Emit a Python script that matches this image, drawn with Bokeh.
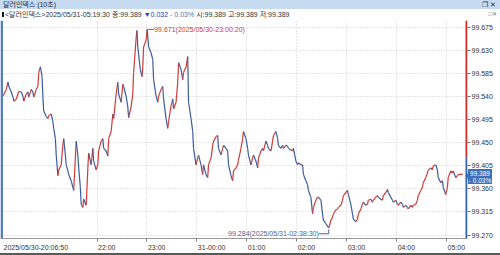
from bokeh.plotting import figure
from bokeh.models import (ColumnDataSource, Range1d, FixedTicker, PrintfTickFormatter, Label, Span, Div,
                          CustomJSTickFormatter)
from bokeh.layouts import column
from bokeh.embed import file_html
from bokeh.resources import INLINE

# ---- data (minutes after 2025/05/30 20:00, 10-second chart of the dollar index) ----
minutes = [
    7, 11, 13, 14, 17, 19, 20, 23, 25, 26,
    29, 31, 32, 35, 37, 38, 41, 43, 44, 47,
    49, 50, 52, 54, 55, 56, 59, 61, 62, 65,
    67, 68, 70, 71, 73, 74, 77, 79, 80, 82,
    83, 85, 86, 89, 91, 92, 94, 95, 97, 98,
    100, 101, 103, 104, 107, 108, 109, 110, 113, 115,
    116, 119, 121, 122, 125, 127, 128, 131, 133, 134,
    137, 139, 140, 143, 145, 146, 149, 151, 152, 155,
    157, 158, 161, 163, 164, 167, 168, 169, 172, 174,
    175, 176, 179, 180.3, 182, 185, 187, 188, 191, 193,
    194, 197, 199, 200, 203, 205, 206, 209, 211, 212,
    215, 217, 218, 221, 223, 224, 227, 229, 230, 233,
    235, 236, 239, 241, 242, 245, 247, 248, 251, 253,
    254, 257, 259, 260, 263, 265, 266, 269, 271, 272,
    275, 277, 278, 281, 283, 284, 287, 289, 290, 293,
    295, 296, 299, 301, 302, 305, 307, 308, 311, 313,
    314, 317, 319, 320, 323, 325, 326, 329, 331, 332,
    335, 337, 338, 341, 343, 344, 347, 349, 350, 353,
    355, 356, 359, 361, 362, 365, 367, 368, 371, 373,
    374, 377, 379, 380, 383, 385, 386, 389, 391, 392,
    395, 398.5, 400, 401, 403, 404, 407, 409, 410, 413,
    415, 416, 419, 421, 422, 425, 427, 428, 431, 433,
    434, 437, 439, 440, 443, 445, 446, 449, 451, 452,
    455, 457, 458, 461, 463, 464, 467, 469, 470, 473,
    475, 476, 479, 481, 482, 485, 487, 488, 491, 493,
    494, 497, 499, 500, 503, 505, 506, 509, 511, 512,
    515, 517, 518, 521, 523, 524, 527, 529, 530, 533,
    535, 536, 539, 541, 542, 545, 547, 548, 551, 553,
    554, 559.5,
]
prices = [
    99.541, 99.554, 99.568, 99.560, 99.549, 99.539, 99.531, 99.535, 99.545, 99.550,
    99.549, 99.541, 99.531, 99.545, 99.549, 99.539, 99.554, 99.549, 99.539, 99.554,
    99.560, 99.587, 99.598, 99.579, 99.539, 99.512, 99.501, 99.497, 99.503, 99.506,
    99.491, 99.478, 99.458, 99.426, 99.386, 99.397, 99.407, 99.445, 99.458, 99.426,
    99.407, 99.395, 99.388, 99.376, 99.363, 99.357, 99.420, 99.453, 99.426, 99.401,
    99.363, 99.330, 99.324, 99.340, 99.328, 99.363, 99.401, 99.430, 99.407, 99.439,
    99.414, 99.397, 99.407, 99.434, 99.453, 99.458, 99.439, 99.434, 99.424, 99.458,
    99.472, 99.506, 99.497, 99.545, 99.568, 99.545, 99.529, 99.564, 99.560, 99.541,
    99.520, 99.499, 99.520, 99.545, 99.587, 99.654, 99.669, 99.637, 99.593, 99.579,
    99.598, 99.637, 99.650, 99.671, 99.637, 99.625, 99.612, 99.573, 99.541, 99.529,
    99.541, 99.554, 99.560, 99.535, 99.497, 99.478, 99.491, 99.522, 99.535, 99.516,
    99.529, 99.568, 99.606, 99.593, 99.573, 99.587, 99.598, 99.618, 99.529, 99.497,
    99.472, 99.439, 99.407, 99.420, 99.426, 99.407, 99.388, 99.407, 99.388, 99.382,
    99.407, 99.420, 99.445, 99.453, 99.462, 99.464, 99.439, 99.426, 99.439, 99.445,
    99.439, 99.434, 99.407, 99.386, 99.376, 99.395, 99.401, 99.407, 99.416, 99.439,
    99.458, 99.472, 99.458, 99.439, 99.426, 99.407, 99.420, 99.426, 99.414, 99.401,
    99.420, 99.434, 99.439, 99.434, 99.453, 99.445, 99.439, 99.434, 99.453, 99.464,
    99.472, 99.458, 99.445, 99.439, 99.445, 99.439, 99.445, 99.443, 99.439, 99.436,
    99.434, 99.439, 99.414, 99.407, 99.411, 99.407, 99.407, 99.388, 99.376, 99.368,
    99.357, 99.344, 99.311, 99.324, 99.338, 99.344, 99.344, 99.338, 99.311, 99.299,
    99.292, 99.284, 99.292, 99.299, 99.305, 99.311, 99.319, 99.321, 99.324, 99.328,
    99.338, 99.347, 99.353, 99.357, 99.349, 99.330, 99.311, 99.301, 99.296, 99.301,
    99.311, 99.321, 99.330, 99.334, 99.328, 99.330, 99.338, 99.340, 99.334, 99.338,
    99.344, 99.347, 99.344, 99.340, 99.338, 99.347, 99.353, 99.359, 99.353, 99.344,
    99.338, 99.334, 99.338, 99.330, 99.328, 99.334, 99.330, 99.324, 99.328, 99.324,
    99.321, 99.328, 99.324, 99.328, 99.330, 99.338, 99.347, 99.357, 99.363, 99.372,
    99.382, 99.391, 99.397, 99.401, 99.397, 99.405, 99.407, 99.397, 99.382, 99.372,
    99.376, 99.363, 99.349, 99.363, 99.382, 99.395, 99.391, 99.395, 99.382, 99.386,
    99.388, 99.389,
]

start_label = "2025/05/30-20:06:50"
hour_ticks = [120, 180, 240, 300, 360, 420, 480, 540]
hour_labels = ["22:00", "23:00", "31-00:00", "01:00", "02:00", "03:00", "04:00", "05:00"]
y_ticks = [99.270, 99.315, 99.360, 99.405, 99.450, 99.495, 99.540, 99.585, 99.630, 99.675]

prev_close = 99.421
last_price = 99.389
change_text = "- 0.03%"
high_minute, high_price = 180.3, 99.671
high_text = "99.671(2025/05/30-23:00:20)"
low_minute, low_price = 398.5, 99.284
low_text = "99.284(2025/05/31-02:38:30)"

title_text = "달러인덱스 (10초)"
info_name = "&lt;달러인덱스&gt;2025/05/31-05:19:30"
info_close = "종:99.389"
info_chg = "▼0.032"
info_pct = "- 0.03%"
info_rest = "시:99.389 고:99.389 저:99.389"

# ---- styles ----
UP = "#d03b38"
DOWN = "#3c5d9c"
AX_RED = "#d42a24"
AX_BLUE = "#2f63b4"
BOX_BLUE = "#3f6fb6"
HIGH_C = "#c8433a"
LOW_C = "#4a6a9c"
FONT = "Liberation Sans"
FS = 7  # px

HEADER_H = 20
FIG_H = 233
FRAME_W, FRAME_H = 467, 222
ppm = 0.8323                      # pixels per minute
x_start = 120 - 96.5 / ppm
x_end = x_start + FRAME_W / ppm
y_start, y_end = 99.2633, 99.6884
ppu = FRAME_H / (y_end - y_start)


def text_w(s):
    """approximate width (px) of a label in Liberation Sans at FS px"""
    w = {":": 0.278, "/": 0.278, "-": 0.333, ".": 0.278}
    return sum(w.get(ch, 0.556) for ch in s) * FS


p = figure(width=500, height=FIG_H, x_range=Range1d(x_start, x_end), y_range=Range1d(y_start, y_end),
           output_backend="svg", toolbar_location=None, y_axis_location="right",
           min_border_left=0, min_border_right=500 - FRAME_W, min_border_top=0,
           min_border_bottom=FIG_H - FRAME_H,
           background_fill_color="white", border_fill_color="white")
p.outline_line_color = None

# grid
p.xgrid.ticker = FixedTicker(ticks=hour_ticks)
p.ygrid.ticker = FixedTicker(ticks=y_ticks)
for g in (p.xgrid, p.ygrid):
    g.grid_line_color = "#cfcfcf"
    g.grid_line_dash = "1 2"
    g.grid_line_width = 1

# left blue border of the chart window
p.add_layout(Span(location=x_start + 1.2 / ppm, dimension="height", line_color="#4f7cc4", line_width=2.5))

# price trace, coloured by direction
src = ColumnDataSource(dict(
    x0=minutes[:-1], x1=minutes[1:], y0=prices[:-1], y1=prices[1:],
    c=[UP if b >= a else DOWN for a, b in zip(prices[:-1], prices[1:])],
))
p.segment(x0="x0", y0="y0", x1="x1", y1="y1", line_color="c", line_width=1.2, source=src)

# x axis: minor ticks mark the hours, labels sit to the right of each tick (left-aligned look)
label_texts = [start_label] + hour_labels
label_lefts = [x_start + 3 / ppm] + [h + 1 / ppm for h in hour_ticks]
label_centers = [l + text_w(t) / 2 / ppm for l, t in zip(label_lefts, label_texts)]
xa = p.xaxis[0]
xa.ticker = FixedTicker(ticks=label_centers, minor_ticks=hour_ticks)
xa.formatter = CustomJSTickFormatter(args=dict(labels=label_texts),
                                     code="return labels[index] == null ? '' : labels[index];")
xa.major_label_text_font = FONT
xa.major_label_text_font_size = f"{FS}px"
xa.major_label_text_color = "#333333"
xa.major_label_standoff = 2
xa.major_tick_out = 0
xa.major_tick_in = 0
xa.minor_tick_out = 3
xa.minor_tick_in = 0
xa.minor_tick_line_color = "#808080"
xa.axis_line_color = "#9a9a9a"

# right price axis
ya = p.yaxis[0]
ya.ticker = FixedTicker(ticks=y_ticks)
ya.formatter = PrintfTickFormatter(format="%.3f")
ya.major_label_text_font = FONT
ya.major_label_text_font_size = f"{FS}px"
ya.major_label_text_color = "#333333"
ya.major_tick_out = 3
ya.major_tick_in = 0
ya.minor_tick_out = 0
ya.minor_tick_in = 0
ya.major_tick_line_color = "#707070"
ya.axis_line_color = None
ya.major_label_standoff = 1

# right axis line: red above previous close, blue below
xe = x_end - 1.0 / ppm
p.segment(x0=[xe, xe], y0=[prev_close, y_start], x1=[xe, xe], y1=[y_end, prev_close],
          line_color=[AX_RED, AX_BLUE], line_width=2)

# high marker
p.line([high_minute + 1 / ppm, high_minute + 7 / ppm], [high_price, high_price], line_color=HIGH_C, line_width=1)
p.add_layout(Label(x=high_minute, y=high_price, text=high_text, x_offset=7, text_align="left",
                   text_baseline="middle", text_font=FONT, text_font_size=f"{FS}px", text_color=HIGH_C))

# low marker
ly = low_price - 6 / ppu
p.line([low_minute - 10 / ppm, low_minute, low_minute], [ly, ly, low_price - 1.5 / ppu],
       line_color=LOW_C, line_width=1)
p.add_layout(Label(x=low_minute, y=low_price, text=low_text, x_offset=-10, y_offset=-6,
                   text_align="right", text_baseline="middle", text_font=FONT,
                   text_font_size=f"{FS}px", text_color=LOW_C))

header_html = f"""
<div style="width:500px;height:20px;overflow:hidden;font-family:'Liberation Sans','Noto Sans CJK KR',sans-serif;">
 <div style="height:9px;background:#c6dbef;position:relative;font-size:7px;line-height:9px;padding-left:3px;color:#1f2d4a;white-space:nowrap;">{title_text}<span style="position:absolute;right:4px;top:0;font-size:7px;">&#x2750; &#x2715;</span></div>
 <div style="height:11px;position:relative;font-size:7px;line-height:11px;padding-left:2px;color:#333;white-space:nowrap;"><span style="display:inline-block;width:2px;height:5px;background:#111;margin-right:1px;"></span>{info_name} {info_close} <span style="color:#2340b8;">{info_chg}</span> <span style="color:#5a6fa8;">{info_pct}</span> {info_rest}<span style="position:absolute;right:3px;top:0;font-size:6px;color:#777;">&#x25A1;&#x2715;</span></div>
</div>
"""
header = Div(text=header_html, width=500, height=HEADER_H, margin=0)

# current price box, laid over the right axis (price axis position from the same scale)
box_h, box_w = 15, 24
box_center = HEADER_H + (y_end - last_price) * ppu
box_top = int(round(box_center - box_h / 2))
fig_bottom = HEADER_H + FIG_H
box_html = f"""<div style="position:relative;width:{box_w}px;height:{box_h}px;background:{BOX_BLUE};color:white;
font-family:'Liberation Sans',sans-serif;font-size:6.5px;line-height:7px;padding-top:0.5px;box-sizing:border-box;text-align:center;">
<span style="position:absolute;left:-3px;top:4px;width:0;height:0;border-top:3px solid transparent;border-bottom:3px solid transparent;border-right:3px solid {BOX_BLUE};"></span>{last_price:.3f}<br>{change_text}</div>"""
price_box = Div(text=box_html, width=box_w, height=box_h,
                margin=(box_top - fig_bottom, 0, fig_bottom - box_top - box_h, FRAME_W + 1),
                styles={"position": "relative", "z-index": "10"})

footer = Div(text="", width=500, height=2, margin=0, styles={"background-color": "#5a5a5a"})

layout = column(header, p, price_box, footer, spacing=0)
open("out.html", "w").write(file_html(layout, INLINE))
